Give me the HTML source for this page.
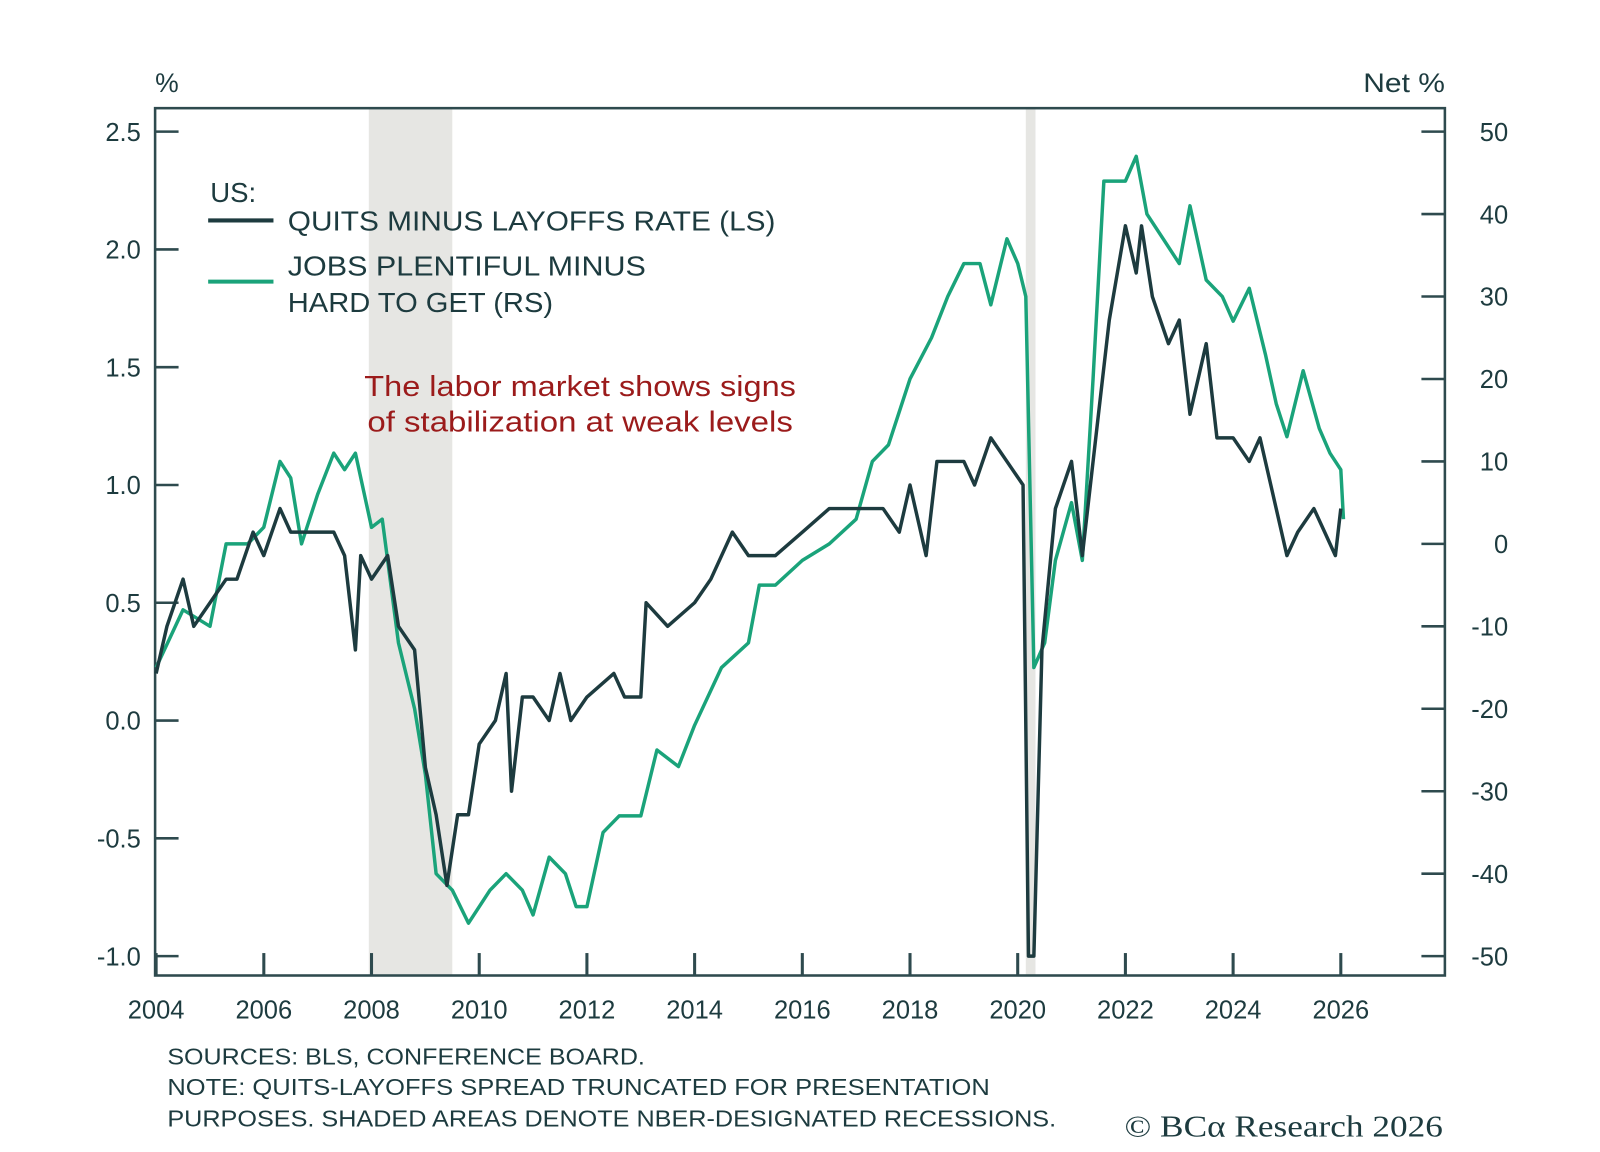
<!DOCTYPE html>
<html><head><meta charset="utf-8"><style>
body{margin:0;background:#fff;}
svg text{font-family:"Liberation Sans",sans-serif;}
</style></head><body>
<svg id="chart" width="1600" height="1147" viewBox="0 0 1600 1147" xmlns="http://www.w3.org/2000/svg">
<g transform="scale(1.0204)">
<g id="shade"></g>
<rect x="152" y="106" width="1264" height="850" fill="none" stroke="#2e4a4e" stroke-width="2.5"/>
<g id="axes"></g>
<g id="lines"></g>
<text x="152" y="90" font-size="26" fill="#1d3b3f">%</text>
<text x="1336" y="90" font-size="26" fill="#1d3b3f" textLength="80" lengthAdjust="spacingAndGlyphs">Net %</text>
<g>
<text x="206" y="198" font-size="27" fill="#1d3b3f">US:</text>
<line x1="204" y1="216" x2="268" y2="216" stroke="#1d3b3f" stroke-width="4"/>
<text x="282" y="226" font-size="27" fill="#1d3b3f" textLength="478" lengthAdjust="spacingAndGlyphs">QUITS MINUS LAYOFFS RATE (LS)</text>
<line x1="204" y1="276" x2="268" y2="276" stroke="#1aa37a" stroke-width="4"/>
<text x="282" y="270" font-size="27" fill="#1d3b3f" textLength="351" lengthAdjust="spacingAndGlyphs">JOBS PLENTIFUL MINUS</text>
<text x="282" y="306" font-size="27" fill="#1d3b3f" textLength="260" lengthAdjust="spacingAndGlyphs">HARD TO GET (RS)</text>
</g>
<text x="357" y="388" font-size="28" fill="#9b1b1b" textLength="423" lengthAdjust="spacingAndGlyphs">The labor market shows signs</text>
<text x="360" y="423" font-size="28" fill="#9b1b1b" textLength="417" lengthAdjust="spacingAndGlyphs">of stabilization at weak levels</text>
<g font-size="23" fill="#1d3b3f">
<text x="164" y="1043" textLength="468" lengthAdjust="spacingAndGlyphs">SOURCES: BLS, CONFERENCE BOARD.</text>
<text x="164" y="1073" textLength="806" lengthAdjust="spacingAndGlyphs">NOTE: QUITS-LAYOFFS SPREAD TRUNCATED FOR PRESENTATION</text>
<text x="164" y="1104" textLength="871" lengthAdjust="spacingAndGlyphs">PURPOSES. SHADED AREAS DENOTE NBER-DESIGNATED RECESSIONS.</text>
</g>
<text x="1102" y="1114" font-size="30" fill="#1d3b3f" textLength="312" lengthAdjust="spacingAndGlyphs" style="font-family:'Liberation Serif',serif">© BCα Research 2026</text>
</g>
</svg>
<script>
const recessions=[[2007.95,2009.5],[2020.15,2020.33]];
const leftTicks=[2.5,2.0,1.5,1.0,0.5,0.0,-0.5,-1.0];
const rightTicks=[50,40,30,20,10,0,-10,-20,-30,-40,-50];
const yearTicks=[2004,2006,2008,2010,2012,2014,2016,2018,2020,2022,2024,2026];
const quitsDates=[2004.0,2004.2,2004.5,2004.7,2005.0,2005.3,2005.5,2005.8,2006.0,2006.3,2006.5,2006.7,2007.0,2007.3,2007.5,2007.7,2007.8,2008.0,2008.3,2008.5,2008.8,2009.0,2009.2,2009.4,2009.6,2009.8,2010.0,2010.3,2010.5,2010.6,2010.8,2011.0,2011.3,2011.5,2011.7,2012.0,2012.5,2012.7,2013.0,2013.1,2013.5,2014.0,2014.3,2014.7,2015.0,2015.5,2016.0,2016.5,2017.0,2017.5,2017.8,2018.0,2018.3,2018.5,2019.0,2019.2,2019.5,2019.8,2020.1,2020.2,2020.3,2020.45,2020.7,2021.0,2021.2,2021.5,2021.7,2022.0,2022.2,2022.3,2022.5,2022.8,2023.0,2023.2,2023.5,2023.7,2024.0,2024.3,2024.5,2024.7,2025.0,2025.2,2025.5,2025.7,2025.9,2026.0];
const quitsValues=[0.2,0.4,0.6,0.4,0.5,0.6,0.6,0.8,0.7,0.9,0.8,0.8,0.8,0.8,0.7,0.3,0.7,0.6,0.7,0.4,0.3,-0.2,-0.4,-0.7,-0.4,-0.4,-0.1,0.0,0.2,-0.3,0.1,0.1,0.0,0.2,0.0,0.1,0.2,0.1,0.1,0.5,0.4,0.5,0.6,0.8,0.7,0.7,0.8,0.9,0.9,0.9,0.8,1.0,0.7,1.1,1.1,1.0,1.2,1.1,1.0,-1.0,-1.0,0.3,0.9,1.1,0.7,1.3,1.7,2.1,1.9,2.1,1.8,1.6,1.7,1.3,1.6,1.2,1.2,1.1,1.2,1.0,0.7,0.8,0.9,0.8,0.7,0.9];
const jobsDates=[2004.0,2004.5,2005.0,2005.3,2005.7,2006.0,2006.3,2006.5,2006.7,2007.0,2007.3,2007.5,2007.7,2008.0,2008.2,2008.5,2008.8,2009.0,2009.2,2009.5,2009.8,2010.2,2010.5,2010.8,2011.0,2011.3,2011.6,2011.8,2012.0,2012.3,2012.6,2013.0,2013.3,2013.7,2014.0,2014.5,2015.0,2015.2,2015.5,2016.0,2016.5,2017.0,2017.3,2017.6,2018.0,2018.4,2018.7,2019.0,2019.3,2019.5,2019.8,2020.0,2020.15,2020.3,2020.5,2020.7,2021.0,2021.2,2021.4,2021.6,2022.0,2022.2,2022.4,2022.7,2023.0,2023.2,2023.5,2023.8,2024.0,2024.3,2024.6,2024.8,2025.0,2025.3,2025.6,2025.8,2026.0,2026.05];
const jobsValues=[-15,-8,-10,0,0,2,10,8,0,6,11,9,11,2,3,-12,-20,-28,-40,-42,-46,-42,-40,-42,-45,-38,-40,-44,-44,-35,-33,-33,-25,-27,-22,-15,-12,-5,-5,-2,0,3,10,12,20,25,30,34,34,29,37,34,30,-15,-12,-2,5,-2,20,44,44,47,40,37,34,41,32,30,27,31,23,17,13,21,14,11,9,3];
const NS='http://www.w3.org/2000/svg';
const X=y=>153+(y-2004)*(1314-153)/22;
const YL=v=>129+(2.5-v)*(937-129)/3.5;
const YR=v=>129+(50-v)*(937-129)/100;
function mk(tag,attrs,parent){const e=document.createElementNS(NS,tag);for(const k in attrs)e.setAttribute(k,attrs[k]);parent.appendChild(e);return e;}
const shade=document.getElementById('shade'),axes=document.getElementById('axes'),lines=document.getElementById('lines');
recessions.forEach(r=>{const e=mk('rect',{x:X(r[0]),y:107,width:X(r[1])-X(r[0]),height:848,fill:'#e6e6e3'},shade);

});
leftTicks.forEach(v=>{const y=YL(v);mk('line',{x1:152,y1:y,x2:175,y2:y,stroke:'#2e4a4e','stroke-width':2.5},axes);
const t=mk('text',{x:138,y:y+9,'font-size':25,fill:'#1d3b3f','text-anchor':'end'},axes);t.textContent=v.toFixed(1);

});
rightTicks.forEach(v=>{const y=YR(v);mk('line',{x1:1393,y1:y,x2:1416,y2:y,stroke:'#2e4a4e','stroke-width':2.5},axes);
const t=mk('text',{x:1478,y:y+9,'font-size':25,fill:'#1d3b3f','text-anchor':'end'},axes);t.textContent=v;

});
yearTicks.forEach(yr=>{const x=X(yr);mk('line',{x1:x,y1:934,x2:x,y2:956,stroke:'#2e4a4e','stroke-width':3},axes);
const t=mk('text',{x:x,y:998,'font-size':25,fill:'#1d3b3f','text-anchor':'middle'},axes);t.textContent=yr;

});
function path(d,v,Y,col,name){const p=mk('path',{d:d.map((t,i)=>(i?'L':'M')+X(t).toFixed(1)+','+Y(v[i]).toFixed(1)).join(''),fill:'none',stroke:col,'stroke-width':3.4,'stroke-linejoin':'round'},lines);

}
path(jobsDates,jobsValues,YR,'#1aa37a','jobs-plentiful-line');
path(quitsDates,quitsValues,YL,'#1d3b3f','quits-minus-layoffs-line');
</script>
</body></html>
